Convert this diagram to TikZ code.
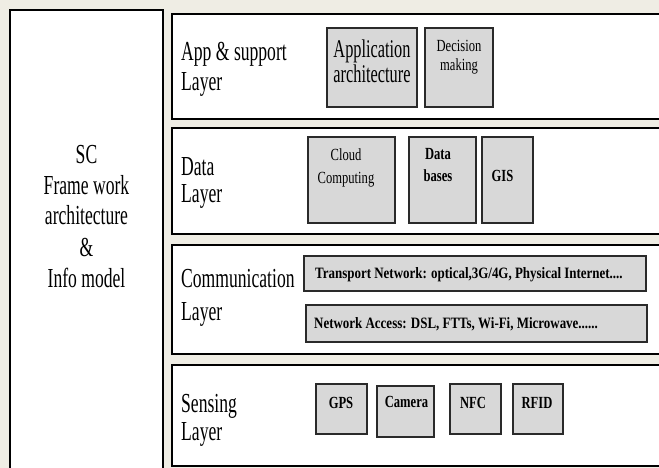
\documentclass[tikz,border=0pt]{standalone}
\usepackage{fontspec}
\setmainfont{Liberation Serif}
\newfontfamily\bigfont[FakeStretch=0.64]{Liberation Serif}
\newfontfamily\smallfont[FakeStretch=0.74]{Liberation Serif}
\newfontfamily\widefont[FakeStretch=0.82]{Liberation Serif}
\usetikzlibrary{fit}
\definecolor{bgbeige}{HTML}{EFEDE4}
\definecolor{boxgray}{HTML}{D8D8D8}
\definecolor{boxline}{HTML}{2A2A2A}
\begin{document}
\begin{tikzpicture}[x=1pt,y=-1pt,
  layerbox/.style={draw=black, line width=1.5pt, fill=white, inner sep=0pt},
  itembox/.style={draw=boxline, line width=1.8pt, fill=boxgray, inner sep=0pt},
  lbl/.style={anchor=base west, inner sep=0pt, align=left,
    font=\bigfont\fontsize{27.5}{28}\selectfont},
  big/.style={anchor=base, inner sep=0pt, align=center,
    font=\bigfont\fontsize{25.5}{25}\selectfont},
  small/.style={anchor=base, inner sep=0pt, align=center,
    font=\smallfont\fontsize{17}{22}\selectfont},
  smallb/.style={anchor=base, inner sep=0pt, align=center,
    font=\smallfont\bfseries\fontsize{17}{22}\selectfont},
  wide/.style={anchor=base west, inner sep=0pt,
    font=\widefont\bfseries\fontsize{15.8}{18}\selectfont}]
\path[use as bounding box, fill=bgbeige] (0,0) rectangle (659,468);

% left column
\node[layerbox, fit={(10,10) (163,478)}] (frame) {};
\node[anchor=base, inner sep=0pt, align=center,
  font=\bigfont\fontsize{27.5}{31}\selectfont] (frametxt) at (86.5,287)
  {SC\\Frame work\\architecture\\\&\\Info model};

% layers
\node[layerbox, fit={(172,14) (668,119)}] (app) {};
\node[layerbox, fit={(172,128) (668,234)}] (data) {};
\node[layerbox, fit={(172,245) (668,354)}] (comm) {};
\node[layerbox, fit={(172,365) (668,466)}] (sens) {};

\node[lbl] (applbl) at (181,91) {App \& support\\[2pt]Layer};
\node[lbl] (datalbl) at (181,203) {Data\\Layer};
\node[lbl] (commlbl) at (181,320) {Communication\\[5pt]Layer};
\node[lbl] (senslbl) at (181,440) {Sensing\\Layer};

% application layer items
\node[itembox, fit={(327,28) (417,107)}] (aa) {};
\node[big] (aatxt) at (372,83) {Application\\architecture};
\node[itembox, fit={(425,28) (493,107)}] (dm) {};
\node[small, font=\smallfont\fontsize{17}{19}\selectfont] (dmtxt) at (459,71) {Decision\\making};

% data layer items
\node[itembox, fit={(308,137) (395,223)}] (cc) {};
\node[small, font=\smallfont\fontsize{17}{23}\selectfont] (cctxt) at (346,183) {Cloud\\Computing};
\node[itembox, fit={(409,137) (476,223)}] (db) {};
\node[smallb] (dbtxt) at (438,182) {Data\\bases};
\node[itembox, fit={(482,137) (533,223)}] (gis) {};
\node[smallb] (gistxt) at (502.5,182) {GIS};

% communication layer items
\node[itembox, fit={(304,256) (646,291)}] (tn) {};
\node[wide] (tntxt) at (315,278) {Transport Network: optical,3G/4G, Physical Internet....};
\node[itembox, fit={(306,305) (647,342)}] (na) {};
\node[wide] (natxt) at (314,328) {Network Access: DSL, FTTs, Wi-Fi, Microwave......};

% sensing layer items
\node[itembox, fit={(316,384) (367,434)}] (gps) {};
\node[smallb] (gpstxt) at (341,408) {GPS};
\node[itembox, fit={(377,386) (434,437)}] (cam) {};
\node[smallb] (camtxt) at (406.5,407) {Camera};
\node[itembox, fit={(450,384) (501,434)}] (nfc) {};
\node[smallb] (nfctxt) at (473,408) {NFC};
\node[itembox, fit={(513,384) (563,434)}] (rfid) {};
\node[smallb] (rfidtxt) at (537,408) {RFID};
\end{tikzpicture}
\end{document}
